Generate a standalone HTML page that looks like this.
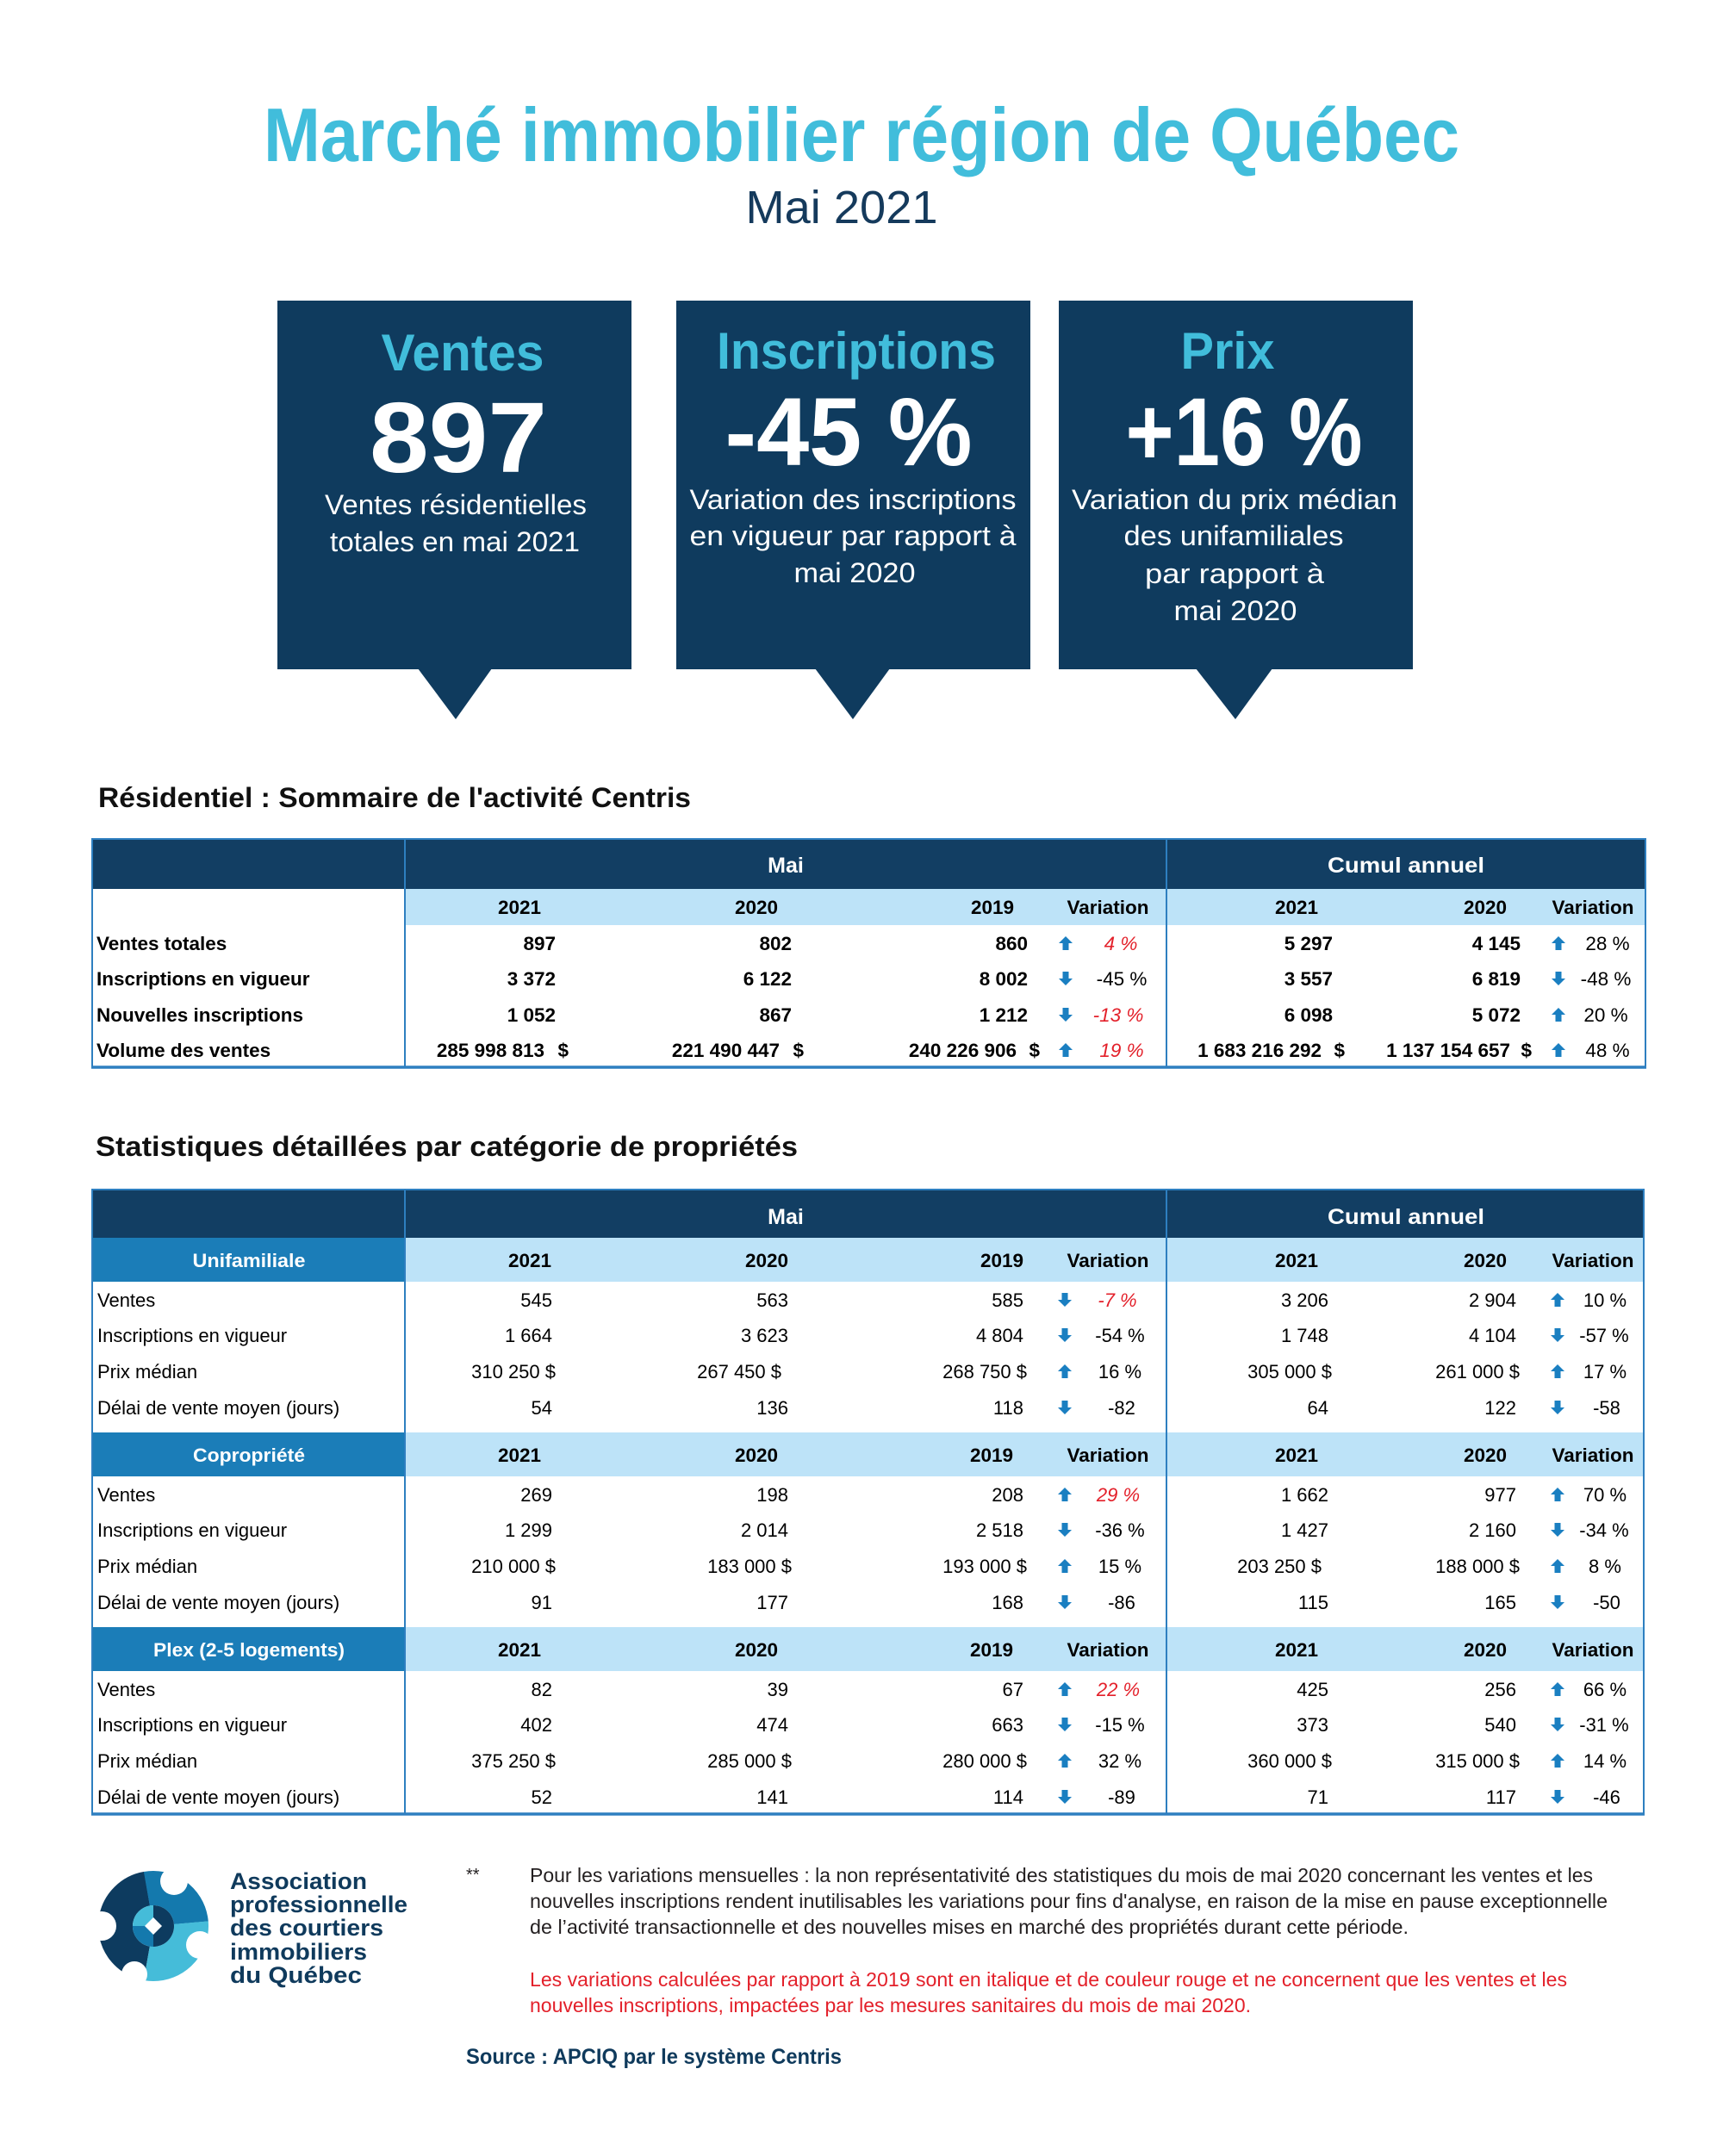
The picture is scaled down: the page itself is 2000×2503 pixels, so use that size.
<!DOCTYPE html>
<html lang="fr">
<head>
<meta charset="utf-8">
<title>Marché immobilier région de Québec - Mai 2021</title>
<style>
  html,body{margin:0;padding:0;background:#ffffff;}
  body{width:2000px;height:2503px;overflow:hidden;}
  svg{display:block;}
  text{font-family:"Liberation Sans", Arial, sans-serif;}
</style>
</head>
<body>
<svg xmlns="http://www.w3.org/2000/svg" width="2000" height="2503" viewBox="0 0 2000 2503">
  <rect x="0" y="0" width="2000" height="2503" fill="#ffffff"/>

  <!-- Title -->
  <text x="1000" y="187" text-anchor="middle" font-size="88" font-weight="bold" fill="#41bddb" textLength="1388" lengthAdjust="spacingAndGlyphs">Marché immobilier région de Québec</text>
  <text x="977" y="259" text-anchor="middle" font-size="54" fill="#153a5c" textLength="223" lengthAdjust="spacingAndGlyphs">Mai 2021</text>

  <!-- Boxes -->
  <g fill="#0f3b5e">
    <rect x="322" y="349" width="411" height="428"/>
    <polygon points="485,776 571,776 529,835"/>
    <rect x="785" y="349" width="411" height="428"/>
    <polygon points="946,776 1033,776 990,835"/>
    <rect x="1229" y="349" width="411" height="428"/>
    <polygon points="1388,776 1477,776 1434,835"/>
  </g>

  <!-- Box 1 -->
  <text x="537" y="430" text-anchor="middle" font-size="60" font-weight="bold" fill="#41bddb" textLength="189" lengthAdjust="spacingAndGlyphs">Ventes</text>
  <text x="532" y="548" text-anchor="middle" font-size="116" font-weight="bold" fill="#ffffff" textLength="206" lengthAdjust="spacingAndGlyphs">897</text>
  <text x="529" y="597" text-anchor="middle" font-size="32" fill="#ffffff" textLength="304" lengthAdjust="spacingAndGlyphs">Ventes résidentielles</text>
  <text x="528" y="640" text-anchor="middle" font-size="32" fill="#ffffff" textLength="290" lengthAdjust="spacingAndGlyphs">totales en mai 2021</text>

  <!-- Box 2 -->
  <text x="994" y="428" text-anchor="middle" font-size="60" font-weight="bold" fill="#41bddb" textLength="324" lengthAdjust="spacingAndGlyphs">Inscriptions</text>
  <text x="985" y="540" text-anchor="middle" font-size="112" font-weight="bold" fill="#ffffff" textLength="287" lengthAdjust="spacingAndGlyphs">-45 %</text>
  <text x="990" y="591" text-anchor="middle" font-size="32" fill="#ffffff" textLength="379" lengthAdjust="spacingAndGlyphs">Variation des inscriptions</text>
  <text x="990" y="633" text-anchor="middle" font-size="32" fill="#ffffff" textLength="379" lengthAdjust="spacingAndGlyphs">en vigueur par rapport à</text>
  <text x="992" y="676" text-anchor="middle" font-size="32" fill="#ffffff" textLength="141" lengthAdjust="spacingAndGlyphs">mai 2020</text>

  <!-- Box 3 -->
  <text x="1425" y="428" text-anchor="middle" font-size="60" font-weight="bold" fill="#41bddb" textLength="109" lengthAdjust="spacingAndGlyphs">Prix</text>
  <text x="1444" y="540" text-anchor="middle" font-size="112" font-weight="bold" fill="#ffffff" textLength="275" lengthAdjust="spacingAndGlyphs">+16 %</text>
  <text x="1433" y="591" text-anchor="middle" font-size="32" fill="#ffffff" textLength="378" lengthAdjust="spacingAndGlyphs">Variation du prix médian</text>
  <text x="1432" y="633" text-anchor="middle" font-size="32" fill="#ffffff" textLength="255" lengthAdjust="spacingAndGlyphs">des unifamiliales</text>
  <text x="1433" y="677" text-anchor="middle" font-size="32" fill="#ffffff" textLength="208" lengthAdjust="spacingAndGlyphs">par rapport à</text>
  <text x="1434" y="720" text-anchor="middle" font-size="32" fill="#ffffff" textLength="143" lengthAdjust="spacingAndGlyphs">mai 2020</text>

  <!-- Section title 1 -->
  <text x="114" y="937" font-size="32" font-weight="bold" fill="#111111" textLength="688" lengthAdjust="spacingAndGlyphs">Résidentiel : Sommaire de l'activité Centris</text>

  <!-- TABLE 1 -->
  <rect x="107" y="974" width="1803" height="58" fill="#123e63"/>
  <rect x="470" y="1032" width="1440" height="42" fill="#bde3f8"/>
  <g stroke="#2e7fc0" stroke-width="2" fill="none">
    <rect x="107" y="974" width="1803" height="265"/>
    <line x1="470" y1="974" x2="470" y2="1239"/>
    <line x1="1354" y1="974" x2="1354" y2="1239"/>
  </g>
  <line x1="106" y1="1239" x2="1911" y2="1239" stroke="#2e7fc0" stroke-width="3.5"/>

  <g font-size="25" font-weight="bold" fill="#ffffff" text-anchor="middle">
    <text x="912" y="1013">Mai</text>
    <text x="1632" y="1013" textLength="182" lengthAdjust="spacingAndGlyphs">Cumul annuel</text>
  </g>
  <g font-size="22.5" font-weight="bold" fill="#000000" text-anchor="middle">
    <text x="603" y="1061">2021</text>
    <text x="878" y="1061">2020</text>
    <text x="1152" y="1061">2019</text>
    <text x="1286" y="1061">Variation</text>
    <text x="1505" y="1061">2021</text>
    <text x="1724" y="1061">2020</text>
    <text x="1849" y="1061">Variation</text>
  </g>

  <!-- Table 1 labels -->
  <g font-size="22.5" font-weight="bold" fill="#000000">
    <text x="112" y="1103">Ventes totales</text>
    <text x="112" y="1144">Inscriptions en vigueur</text>
    <text x="112" y="1186">Nouvelles inscriptions</text>
    <text x="112" y="1227">Volume des ventes</text>
  </g>
  <!-- Table 1 values -->
  <g font-size="22.5" font-weight="bold" fill="#000000" text-anchor="end">
    <text x="645" y="1103">897</text>
    <text x="919" y="1103">802</text>
    <text x="1193" y="1103">860</text>
    <text x="1547" y="1103">5 297</text>
    <text x="1765" y="1103">4 145</text>

    <text x="645" y="1144">3 372</text>
    <text x="919" y="1144">6 122</text>
    <text x="1193" y="1144">8 002</text>
    <text x="1547" y="1144">3 557</text>
    <text x="1765" y="1144">6 819</text>

    <text x="645" y="1186">1 052</text>
    <text x="919" y="1186">867</text>
    <text x="1193" y="1186">1 212</text>
    <text x="1547" y="1186">6 098</text>
    <text x="1765" y="1186">5 072</text>

    <text x="632" y="1227">285 998 813</text>
    <text x="660" y="1227">$</text>
    <text x="905" y="1227">221 490 447</text>
    <text x="933" y="1227">$</text>
    <text x="1180" y="1227">240 226 906</text>
    <text x="1207" y="1227">$</text>
    <text x="1534" y="1227">1 683 216 292</text>
    <text x="1561" y="1227">$</text>
    <text x="1753" y="1227">1 137 154 657</text>
    <text x="1778" y="1227">$</text>
  </g>
  <g font-size="22.5" text-anchor="middle">
    <text x="1301" y="1103" fill="#e3202a" font-style="italic">4 %</text>
    <text x="1302" y="1144" fill="#000000">-45 %</text>
    <text x="1298" y="1186" fill="#e3202a" font-style="italic">-13 %</text>
    <text x="1302" y="1227" fill="#e3202a" font-style="italic">19 %</text>
    <text x="1866" y="1103" fill="#000000">28 %</text>
    <text x="1864" y="1144" fill="#000000">-48 %</text>
    <text x="1864" y="1186" fill="#000000">20 %</text>
    <text x="1866" y="1227" fill="#000000">48 %</text>
  </g>
  <!-- Table 1 arrows -->
  <g fill="#1a7fc1">
    <path transform="translate(1237,1103)" d="M-8,-8 L0,-16 L8,-8 L3.5,-8 L3.5,0 L-3.5,0 L-3.5,-8 Z"/>
    <path transform="translate(1237,1144)" d="M-3.5,-16 L3.5,-16 L3.5,-8 L8,-8 L0,0 L-8,-8 L-3.5,-8 Z"/>
    <path transform="translate(1237,1186)" d="M-3.5,-16 L3.5,-16 L3.5,-8 L8,-8 L0,0 L-8,-8 L-3.5,-8 Z"/>
    <path transform="translate(1237,1227)" d="M-8,-8 L0,-16 L8,-8 L3.5,-8 L3.5,0 L-3.5,0 L-3.5,-8 Z"/>
    <path transform="translate(1809,1103)" d="M-8,-8 L0,-16 L8,-8 L3.5,-8 L3.5,0 L-3.5,0 L-3.5,-8 Z"/>
    <path transform="translate(1809,1144)" d="M-3.5,-16 L3.5,-16 L3.5,-8 L8,-8 L0,0 L-8,-8 L-3.5,-8 Z"/>
    <path transform="translate(1809,1186)" d="M-8,-8 L0,-16 L8,-8 L3.5,-8 L3.5,0 L-3.5,0 L-3.5,-8 Z"/>
    <path transform="translate(1809,1227)" d="M-8,-8 L0,-16 L8,-8 L3.5,-8 L3.5,0 L-3.5,0 L-3.5,-8 Z"/>
  </g>

  <!-- Section title 2 -->
  <text x="111" y="1342" font-size="32" font-weight="bold" fill="#111111" textLength="815" lengthAdjust="spacingAndGlyphs">Statistiques détaillées par catégorie de propriétés</text>

  <!-- TABLE 2 backgrounds -->
  <rect x="107" y="1381" width="1801" height="56" fill="#123e63"/>
  <rect x="107" y="1437" width="363" height="51" fill="#1b7db8"/>
  <rect x="470" y="1437" width="1438" height="51" fill="#bde3f8"/>
  <rect x="107" y="1663" width="363" height="51" fill="#1b7db8"/>
  <rect x="470" y="1663" width="1438" height="51" fill="#bde3f8"/>
  <rect x="107" y="1889" width="363" height="51" fill="#1b7db8"/>
  <rect x="470" y="1889" width="1438" height="51" fill="#bde3f8"/>
  <g stroke="#2e7fc0" stroke-width="2" fill="none">
    <rect x="107" y="1381" width="1801" height="725"/>
    <line x1="470" y1="1381" x2="470" y2="2106"/>
    <line x1="1354" y1="1381" x2="1354" y2="2106"/>
  </g>
  <line x1="106" y1="2106" x2="1909" y2="2106" stroke="#2e7fc0" stroke-width="3.5"/>

  <g font-size="25" font-weight="bold" fill="#ffffff" text-anchor="middle">
    <text x="912" y="1421">Mai</text>
    <text x="1632" y="1421" textLength="182" lengthAdjust="spacingAndGlyphs">Cumul annuel</text>
  </g>

  <!-- Section headers -->
  <g font-size="22.5" font-weight="bold" fill="#ffffff" text-anchor="middle">
    <text x="289" y="1471" textLength="131" lengthAdjust="spacingAndGlyphs">Unifamiliale</text>
    <text x="289" y="1697" textLength="130" lengthAdjust="spacingAndGlyphs">Copropriété</text>
    <text x="289" y="1923" textLength="222" lengthAdjust="spacingAndGlyphs">Plex (2-5 logements)</text>
  </g>
  <g font-size="22.5" font-weight="bold" fill="#000000" text-anchor="middle">
    <text x="615" y="1471">2021</text>
    <text x="890" y="1471">2020</text>
    <text x="1163" y="1471">2019</text>
    <text x="1286" y="1471">Variation</text>
    <text x="1505" y="1471">2021</text>
    <text x="1724" y="1471">2020</text>
    <text x="1849" y="1471">Variation</text>

    <text x="603" y="1697">2021</text>
    <text x="878" y="1697">2020</text>
    <text x="1151" y="1697">2019</text>
    <text x="1286" y="1697">Variation</text>
    <text x="1505" y="1697">2021</text>
    <text x="1724" y="1697">2020</text>
    <text x="1849" y="1697">Variation</text>

    <text x="603" y="1923">2021</text>
    <text x="878" y="1923">2020</text>
    <text x="1151" y="1923">2019</text>
    <text x="1286" y="1923">Variation</text>
    <text x="1505" y="1923">2021</text>
    <text x="1724" y="1923">2020</text>
    <text x="1849" y="1923">Variation</text>
  </g>

  <!-- Table 2 labels -->
  <g font-size="22" fill="#000000">
    <text x="113" y="1517">Ventes</text>
    <text x="113" y="1558">Inscriptions en vigueur</text>
    <text x="113" y="1600">Prix médian</text>
    <text x="113" y="1642">Délai de vente moyen (jours)</text>

    <text x="113" y="1743">Ventes</text>
    <text x="113" y="1784">Inscriptions en vigueur</text>
    <text x="113" y="1826">Prix médian</text>
    <text x="113" y="1868">Délai de vente moyen (jours)</text>

    <text x="113" y="1969">Ventes</text>
    <text x="113" y="2010">Inscriptions en vigueur</text>
    <text x="113" y="2052">Prix médian</text>
    <text x="113" y="2094">Délai de vente moyen (jours)</text>
  </g>

  <!-- Table 2 values -->
  <g font-size="22" fill="#000000" text-anchor="end">
    <!-- Unifamiliale -->
    <text x="641" y="1517">545</text>
    <text x="915" y="1517">563</text>
    <text x="1188" y="1517">585</text>
    <text x="1542" y="1517">3 206</text>
    <text x="1760" y="1517">2 904</text>

    <text x="641" y="1558">1 664</text>
    <text x="915" y="1558">3 623</text>
    <text x="1188" y="1558">4 804</text>
    <text x="1542" y="1558">1 748</text>
    <text x="1760" y="1558">4 104</text>

    <text x="645" y="1600">310 250 $</text>
    <text x="907" y="1600">267 450 $</text>
    <text x="1192" y="1600">268 750 $</text>
    <text x="1546" y="1600">305 000 $</text>
    <text x="1764" y="1600">261 000 $</text>

    <text x="641" y="1642">54</text>
    <text x="915" y="1642">136</text>
    <text x="1188" y="1642">118</text>
    <text x="1542" y="1642">64</text>
    <text x="1760" y="1642">122</text>

    <!-- Copropriété -->
    <text x="641" y="1743">269</text>
    <text x="915" y="1743">198</text>
    <text x="1188" y="1743">208</text>
    <text x="1542" y="1743">1 662</text>
    <text x="1760" y="1743">977</text>

    <text x="641" y="1784">1 299</text>
    <text x="915" y="1784">2 014</text>
    <text x="1188" y="1784">2 518</text>
    <text x="1542" y="1784">1 427</text>
    <text x="1760" y="1784">2 160</text>

    <text x="645" y="1826">210 000 $</text>
    <text x="919" y="1826">183 000 $</text>
    <text x="1192" y="1826">193 000 $</text>
    <text x="1534" y="1826">203 250 $</text>
    <text x="1764" y="1826">188 000 $</text>

    <text x="641" y="1868">91</text>
    <text x="915" y="1868">177</text>
    <text x="1188" y="1868">168</text>
    <text x="1542" y="1868">115</text>
    <text x="1760" y="1868">165</text>

    <!-- Plex -->
    <text x="641" y="1969">82</text>
    <text x="915" y="1969">39</text>
    <text x="1188" y="1969">67</text>
    <text x="1542" y="1969">425</text>
    <text x="1760" y="1969">256</text>

    <text x="641" y="2010">402</text>
    <text x="915" y="2010">474</text>
    <text x="1188" y="2010">663</text>
    <text x="1542" y="2010">373</text>
    <text x="1760" y="2010">540</text>

    <text x="645" y="2052">375 250 $</text>
    <text x="919" y="2052">285 000 $</text>
    <text x="1192" y="2052">280 000 $</text>
    <text x="1546" y="2052">360 000 $</text>
    <text x="1764" y="2052">315 000 $</text>

    <text x="641" y="2094">52</text>
    <text x="915" y="2094">141</text>
    <text x="1188" y="2094">114</text>
    <text x="1542" y="2094">71</text>
    <text x="1760" y="2094">117</text>
  </g>

  <!-- Table 2 variations -->
  <g font-size="22" fill="#000000" text-anchor="middle">
    <text x="1297" y="1517" fill="#e3202a" font-style="italic">-7 %</text>
    <text x="1300" y="1558">-54 %</text>
    <text x="1300" y="1600">16 %</text>
    <text x="1302" y="1642">-82</text>
    <text x="1863" y="1517">10 %</text>
    <text x="1862" y="1558">-57 %</text>
    <text x="1863" y="1600">17 %</text>
    <text x="1865" y="1642">-58</text>

    <text x="1298" y="1743" fill="#e3202a" font-style="italic">29 %</text>
    <text x="1300" y="1784">-36 %</text>
    <text x="1300" y="1826">15 %</text>
    <text x="1302" y="1868">-86</text>
    <text x="1863" y="1743">70 %</text>
    <text x="1862" y="1784">-34 %</text>
    <text x="1863" y="1826">8 %</text>
    <text x="1865" y="1868">-50</text>

    <text x="1298" y="1969" fill="#e3202a" font-style="italic">22 %</text>
    <text x="1300" y="2010">-15 %</text>
    <text x="1300" y="2052">32 %</text>
    <text x="1302" y="2094">-89</text>
    <text x="1863" y="1969">66 %</text>
    <text x="1862" y="2010">-31 %</text>
    <text x="1863" y="2052">14 %</text>
    <text x="1865" y="2094">-46</text>
  </g>

  <!-- Table 2 arrows -->
  <g fill="#1a7fc1">
    <!-- Unifamiliale -->
    <path transform="translate(1236,1517)" d="M-3.5,-16 L3.5,-16 L3.5,-8 L8,-8 L0,0 L-8,-8 L-3.5,-8 Z"/>
    <path transform="translate(1236,1558)" d="M-3.5,-16 L3.5,-16 L3.5,-8 L8,-8 L0,0 L-8,-8 L-3.5,-8 Z"/>
    <path transform="translate(1236,1600)" d="M-8,-8 L0,-16 L8,-8 L3.5,-8 L3.5,0 L-3.5,0 L-3.5,-8 Z"/>
    <path transform="translate(1236,1642)" d="M-3.5,-16 L3.5,-16 L3.5,-8 L8,-8 L0,0 L-8,-8 L-3.5,-8 Z"/>
    <path transform="translate(1808,1517)" d="M-8,-8 L0,-16 L8,-8 L3.5,-8 L3.5,0 L-3.5,0 L-3.5,-8 Z"/>
    <path transform="translate(1808,1558)" d="M-3.5,-16 L3.5,-16 L3.5,-8 L8,-8 L0,0 L-8,-8 L-3.5,-8 Z"/>
    <path transform="translate(1808,1600)" d="M-8,-8 L0,-16 L8,-8 L3.5,-8 L3.5,0 L-3.5,0 L-3.5,-8 Z"/>
    <path transform="translate(1808,1642)" d="M-3.5,-16 L3.5,-16 L3.5,-8 L8,-8 L0,0 L-8,-8 L-3.5,-8 Z"/>
    <!-- Copropriété -->
    <path transform="translate(1236,1743)" d="M-8,-8 L0,-16 L8,-8 L3.5,-8 L3.5,0 L-3.5,0 L-3.5,-8 Z"/>
    <path transform="translate(1236,1784)" d="M-3.5,-16 L3.5,-16 L3.5,-8 L8,-8 L0,0 L-8,-8 L-3.5,-8 Z"/>
    <path transform="translate(1236,1826)" d="M-8,-8 L0,-16 L8,-8 L3.5,-8 L3.5,0 L-3.5,0 L-3.5,-8 Z"/>
    <path transform="translate(1236,1868)" d="M-3.5,-16 L3.5,-16 L3.5,-8 L8,-8 L0,0 L-8,-8 L-3.5,-8 Z"/>
    <path transform="translate(1808,1743)" d="M-8,-8 L0,-16 L8,-8 L3.5,-8 L3.5,0 L-3.5,0 L-3.5,-8 Z"/>
    <path transform="translate(1808,1784)" d="M-3.5,-16 L3.5,-16 L3.5,-8 L8,-8 L0,0 L-8,-8 L-3.5,-8 Z"/>
    <path transform="translate(1808,1826)" d="M-8,-8 L0,-16 L8,-8 L3.5,-8 L3.5,0 L-3.5,0 L-3.5,-8 Z"/>
    <path transform="translate(1808,1868)" d="M-3.5,-16 L3.5,-16 L3.5,-8 L8,-8 L0,0 L-8,-8 L-3.5,-8 Z"/>
    <!-- Plex -->
    <path transform="translate(1236,1969)" d="M-8,-8 L0,-16 L8,-8 L3.5,-8 L3.5,0 L-3.5,0 L-3.5,-8 Z"/>
    <path transform="translate(1236,2010)" d="M-3.5,-16 L3.5,-16 L3.5,-8 L8,-8 L0,0 L-8,-8 L-3.5,-8 Z"/>
    <path transform="translate(1236,2052)" d="M-8,-8 L0,-16 L8,-8 L3.5,-8 L3.5,0 L-3.5,0 L-3.5,-8 Z"/>
    <path transform="translate(1236,2094)" d="M-3.5,-16 L3.5,-16 L3.5,-8 L8,-8 L0,0 L-8,-8 L-3.5,-8 Z"/>
    <path transform="translate(1808,1969)" d="M-8,-8 L0,-16 L8,-8 L3.5,-8 L3.5,0 L-3.5,0 L-3.5,-8 Z"/>
    <path transform="translate(1808,2010)" d="M-3.5,-16 L3.5,-16 L3.5,-8 L8,-8 L0,0 L-8,-8 L-3.5,-8 Z"/>
    <path transform="translate(1808,2052)" d="M-8,-8 L0,-16 L8,-8 L3.5,-8 L3.5,0 L-3.5,0 L-3.5,-8 Z"/>
    <path transform="translate(1808,2094)" d="M-3.5,-16 L3.5,-16 L3.5,-8 L8,-8 L0,0 L-8,-8 L-3.5,-8 Z"/>
  </g>

  <!-- Logo mark (approximation) -->
  <g>
    <circle cx="178" cy="2236" r="44" fill="none" stroke="#0d3b5f" stroke-width="40" stroke-dasharray="122.9 400" transform="rotate(100 178 2236)"/>
    <circle cx="178" cy="2236" r="44" fill="none" stroke="#1479ad" stroke-width="40" stroke-dasharray="73 400" transform="rotate(260 178 2236)"/>
    <circle cx="178" cy="2236" r="44" fill="none" stroke="#45bcd9" stroke-width="40" stroke-dasharray="80.6 400" transform="rotate(355 178 2236)"/>
    <circle cx="178" cy="2236" r="24" fill="#45bcd9"/>
    <path d="M178,2212 A24,24 0 0 1 178,2260 Z" fill="#0d3b5f"/>
    <path d="M178,2236 L178,2260 A24,24 0 0 1 154,2236 Z" fill="#1479ad"/>
    <polygon points="178,2226 188,2236 178,2246 168,2236" fill="#ffffff"/>
    <circle cx="118" cy="2236" r="17" fill="#ffffff"/>
    <circle cx="202" cy="2184" r="16" fill="#ffffff"/>
    <circle cx="232" cy="2258" r="16" fill="#ffffff"/>
    <circle cx="156" cy="2292" r="15" fill="#ffffff"/>
  </g>
  <g font-size="27" font-weight="bold" fill="#0f3a5c">
    <text x="267" y="2193" textLength="159" lengthAdjust="spacingAndGlyphs">Association</text>
    <text x="267" y="2220" textLength="206" lengthAdjust="spacingAndGlyphs">professionnelle</text>
    <text x="267" y="2247" textLength="178" lengthAdjust="spacingAndGlyphs">des courtiers</text>
    <text x="267" y="2275" textLength="159" lengthAdjust="spacingAndGlyphs">immobiliers</text>
    <text x="267" y="2302" textLength="153" lengthAdjust="spacingAndGlyphs">du Québec</text>
  </g>

  <!-- Footnotes -->
  <text x="541" y="2183" font-size="20" fill="#231f20">**</text>
  <g font-size="23" fill="#231f20">
    <text x="615" y="2185" textLength="1234" lengthAdjust="spacingAndGlyphs">Pour les variations mensuelles : la non représentativité des statistiques du mois de mai 2020 concernant les ventes et les</text>
    <text x="615" y="2215" textLength="1251" lengthAdjust="spacingAndGlyphs">nouvelles inscriptions rendent inutilisables les variations pour fins d'analyse, en raison de la mise en pause exceptionnelle</text>
    <text x="615" y="2245" textLength="1020" lengthAdjust="spacingAndGlyphs">de l’activité transactionnelle et des nouvelles mises en marché des propriétés durant cette période.</text>
  </g>
  <g font-size="23" fill="#e3202a">
    <text x="615" y="2306" textLength="1204" lengthAdjust="spacingAndGlyphs">Les variations calculées par rapport à 2019 sont en italique et de couleur rouge et ne concernent que les ventes et les</text>
    <text x="615" y="2336" textLength="837" lengthAdjust="spacingAndGlyphs">nouvelles inscriptions, impactées par les mesures sanitaires du mois de mai 2020.</text>
  </g>
  <text x="541" y="2396" font-size="25" font-weight="bold" fill="#0f3a5c" textLength="436" lengthAdjust="spacingAndGlyphs">Source : APCIQ par le système Centris</text>
</svg>
</body>
</html>
